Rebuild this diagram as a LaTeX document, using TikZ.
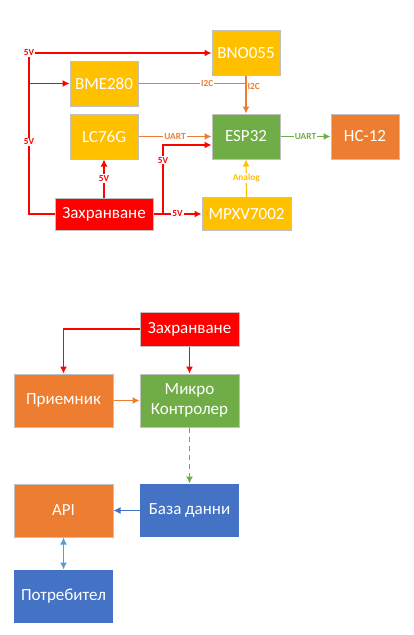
\documentclass[tikz,border=0pt]{standalone}
\usepackage{fontspec}
\setmainfont{Carlito}
\usetikzlibrary{arrows.meta}
\definecolor{sensorcol}{HTML}{FFC000}
\definecolor{mcucol}{HTML}{70AD47}
\definecolor{commcol}{HTML}{ED7D31}
\definecolor{dbcol}{HTML}{4472C4}
\definecolor{linkcol}{HTML}{5B9BD5}
\definecolor{powercol}{HTML}{FF0000}
\definecolor{edgecol}{HTML}{C0C0C0}

\begin{document}
\begin{tikzpicture}[
 x=1pt, y=-1pt,
 line width=1.2pt,
 >={Latex[length=7pt,width=7pt]},
 align=center,
 font=\fontsize{17}{20}\selectfont,
 box/.style={draw=edgecol,line width=1pt,rectangle,text=white,minimum width=68pt,minimum height=45pt},
 bigbox/.style={box,minimum width=99pt,minimum height=53pt},
 tag/.style={fill=white,inner sep=1pt,font=\fontsize{9.3}{10}\selectfont\bfseries}
]
\useasboundingbox (0,0) rectangle (413,635);
% sensor board
\node (bno) [box,fill=sensorcol] at (246,53) {BNO055};
\node (bme) [box,fill=sensorcol] at (104,83.5) {BME280};
\node (gps) [box,fill=sensorcol] at (104,136.5) {LC76G};
\node (esp) [box,fill=mcucol] at (246,136.5) {ESP32};
\node (radio) [box,fill=commcol] at (365,136.5) {HC-12};
\node (power) [box,fill=powercol,minimum width=98pt,minimum height=32pt] at (104,214) {Захранване};
\node (pitot) [box,fill=sensorcol,minimum width=89pt,minimum height=33pt] at (246.5,214) {MPXV7002};
\coordinate (rail-top) at (29,53);
\coordinate (rail-bot) at (29,214);
\coordinate (split) at (163,214);
\coordinate (esp-in) at ([yshift=-8.5pt]esp.west);
\draw[powercol,->] (power.west) -- (rail-bot) -- node[tag,pos=0.45] {5V} (rail-top) -- (bno.west);
\node[tag,text=powercol] at (rail-top) {5V};
\draw[powercol,->] (rail-top |- bme.west) -- (bme.west);
\draw[powercol,->] (power.north) -- node[tag] {5V} (gps.south);
\draw[powercol,->] (power.east) -- node[tag] {5V} (pitot.west);
\draw[powercol,->] (split) -- node[tag,pos=0.78] {5V} (split |- esp-in) -- (esp-in);
\draw[commcol] (bme.east) -- node[tag,pos=0.64] {I2C} (bno.south |- bme.east);
\draw[commcol,->] (bno.south) -- node[tag,right,pos=0.28] {I2C} (esp.north);
\draw[commcol,->] (gps.east) -- node[tag] {UART} (esp.west);
\draw[sensorcol,->] (pitot.north) -- node[tag] {Analog} (esp.south);
\draw[mcucol,->] (esp.east) -- node[tag] {UART} (radio.west);
% data flow
\node (supply) [box,fill=powercol,minimum width=99pt,minimum height=34pt] at (189.5,329) {Захранване};
\node (receiver) [bigbox,fill=commcol] at (63.5,400.5) {Приемник};
\node (micro) [bigbox,fill=mcucol] at (189.5,400.5) {Микро\\Контролер};
\node (api) [bigbox,fill=commcol] at (63.5,510.5) {API};
\node (db) [bigbox,fill=dbcol,draw=none] at (189.5,510.5) {База данни};
\node (user) [bigbox,fill=dbcol,draw=none] at (63.5,596.5) {Потребител};
\draw[powercol,->] (supply.west) -| (receiver.north);
\draw[powercol,->] (supply.south) -- (micro.north);
\draw[commcol,->] (receiver.east) -- (micro.west);
\draw[mcucol,dash pattern=on 5pt off 4pt,->] (micro.south) -- (db.north);
\draw[dbcol,->] (db.west) -- (api.east);
\draw[linkcol,<->] (api.south) -- (user.north);
\end{tikzpicture}
\end{document}
